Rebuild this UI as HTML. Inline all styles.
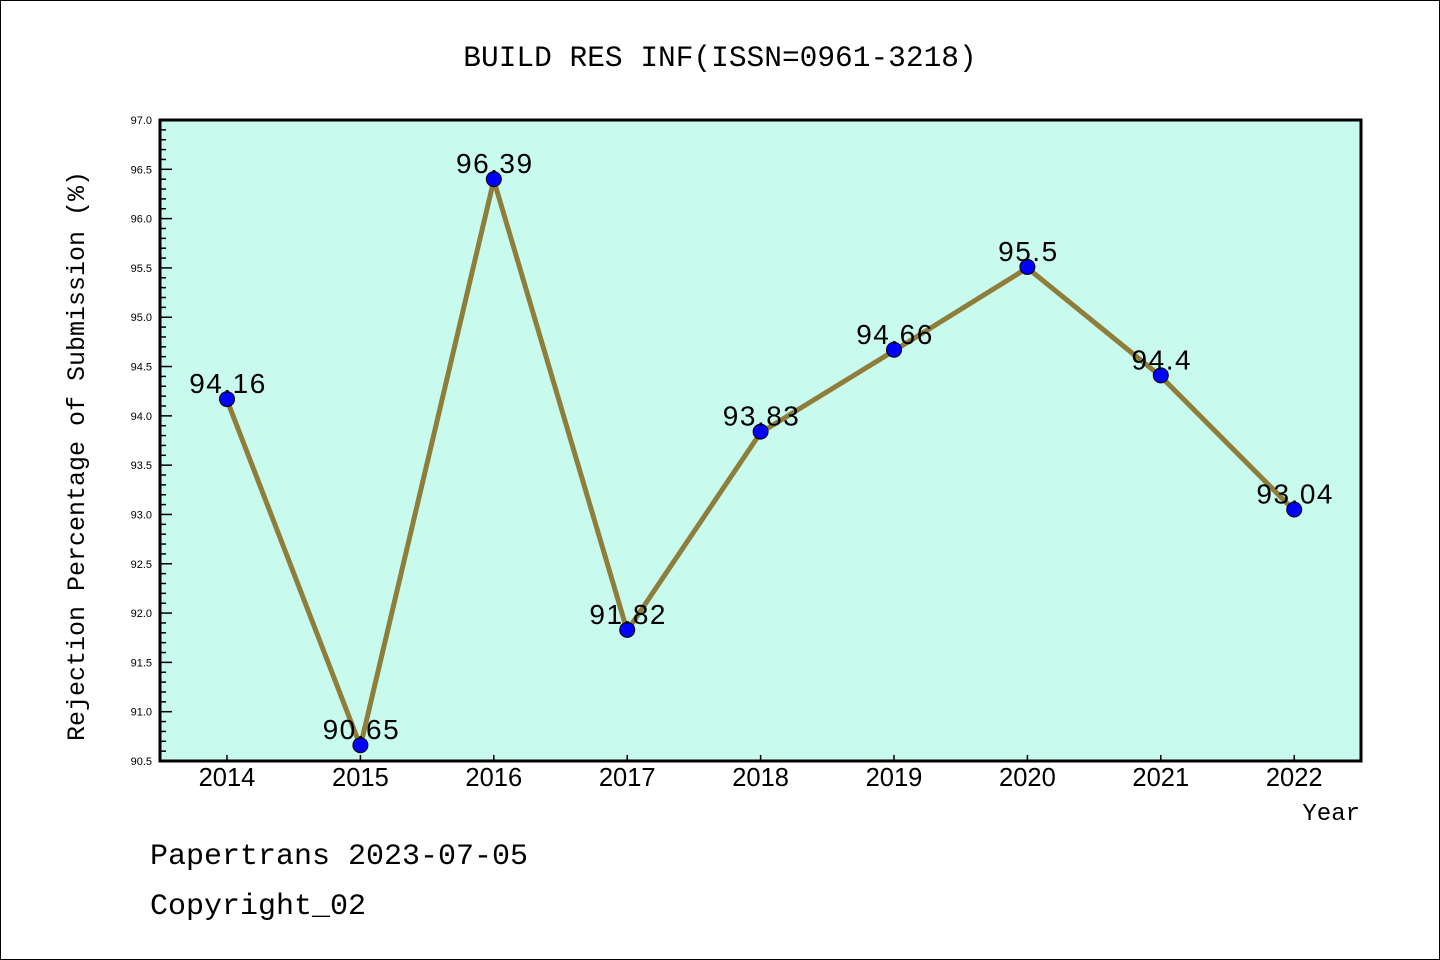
<!DOCTYPE html>
<html><head><meta charset="utf-8"><style>
html,body{margin:0;padding:0;background:#fff;}
svg{display:block;}
</style></head><body>
<svg id="chart" width="1440" height="960" xmlns="http://www.w3.org/2000/svg">
<rect x="0.5" y="0.5" width="1439" height="959" fill="#fff" stroke="#000" stroke-width="1"/>
<text x="720" y="66" text-anchor="middle" font-family="Liberation Mono, monospace" font-size="29.5">BUILD RES INF(ISSN=0961-3218)</text>
<rect x="160" y="120" width="1201" height="641" fill="#c8fbee"/>
<g id="yaxis"></g><g id="xaxis"></g><g id="series"></g>
<rect x="160" y="120" width="1201" height="641" fill="none" stroke="#000" stroke-width="3"/>
<text transform="translate(84,456) rotate(-90)" text-anchor="middle" font-family="Liberation Mono, monospace" font-size="25">Rejection Percentage of Submission (%)</text>
<text x="1360" y="820" text-anchor="end" font-family="Liberation Mono, monospace" font-size="24">Year</text>
<text x="150" y="864" font-family="Liberation Mono, monospace" font-size="30">Papertrans 2023-07-05</text>
<text x="150" y="914" font-family="Liberation Mono, monospace" font-size="30">Copyright_02</text>
</svg>
<script>
const years = ['2014','2015','2016','2017','2018','2019','2020','2021','2022'];
const values = [94.16, 90.65, 96.39, 91.82, 93.83, 94.66, 95.5, 94.4, 93.04];
const labels = ['94.16','90.65','96.39','91.82','93.83','94.66','95.5','94.4','93.04'];
const yTicks = ['90.5','91.0','91.5','92.0','92.5','93.0','93.5','94.0','94.5','95.0','95.5','96.0','96.5','97.0'];
const NS='http://www.w3.org/2000/svg';
const yMin=90.5,yMax=97.0,yTop=120,yBot=761;
function y(v){return yBot-(v-yMin)/(yMax-yMin)*(yBot-yTop);}
function x(i){return 227+i*133.4;}
function mk(tag,attrs,parent){const e=document.createElementNS(NS,tag);for(const k in attrs)e.setAttribute(k,attrs[k]);parent.appendChild(e);return e;}
const ya=document.getElementById('yaxis');
for(let k=0;k<=65;k++){const v=yMin+k*0.1;const yy=y(v);const major=k%5===0;
 const t=mk('line',{x1:160,x2:160+(major?12:6),y1:yy,y2:yy,stroke:'#000','stroke-width':1.5},ya);
 
 }
yTicks.forEach(s=>{const t=mk('text',{x:152,y:y(parseFloat(s))+4,'text-anchor':'end','font-family':'Liberation Sans, sans-serif','font-size':11},ya);t.textContent=s;
 
 });
const xa=document.getElementById('xaxis');
years.forEach((s,i)=>{const l=mk('line',{x1:x(i),x2:x(i),y1:yBot,y2:yBot-6,stroke:'#000','stroke-width':1.5},xa);
 
 
 const t=mk('text',{x:x(i),y:786,'text-anchor':'middle','font-family':'Liberation Sans, sans-serif','font-size':25.5},xa);t.textContent=s;
 
 });
const sg=document.getElementById('series');
const pl=mk('polyline',{points:values.map((v,i)=>x(i)+','+y(v)).join(' '),fill:'none',stroke:'#8f7d3a','stroke-width':5,'stroke-linejoin':'round'},sg);


values.forEach((v,i)=>{const c=mk('circle',{cx:x(i),cy:y(v)-1,r:7.5,fill:'#0000ff',stroke:'#000','stroke-width':1},sg);
 
 });
values.forEach((v,i)=>{const t=mk('text',{x:x(i)+1,y:y(v)-7,'text-anchor':'middle','font-family':'Liberation Sans, sans-serif','font-size':28,'letter-spacing':1.5},sg);t.textContent=labels[i];
 
 });
</script>
</body></html>
